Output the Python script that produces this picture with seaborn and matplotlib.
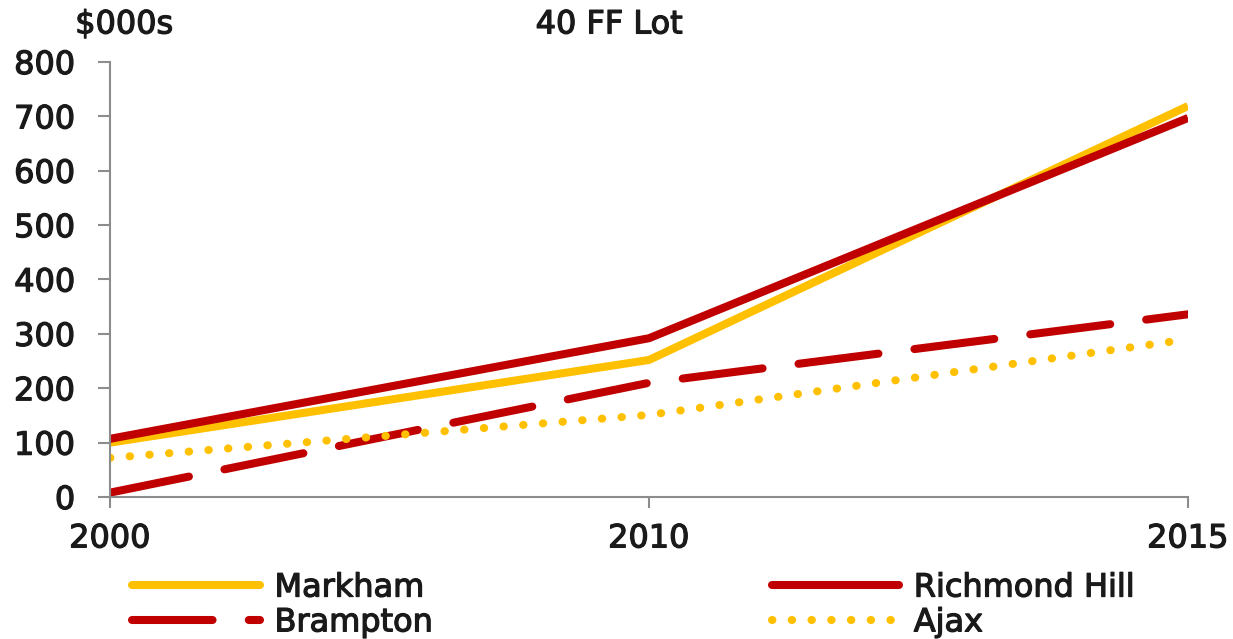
import pandas as pd
import seaborn as sns
import matplotlib.pyplot as plt
import matplotlib.patheffects as pe

# data ($000s)
years = ["2000", "2010", "2015"]
markham = [100, 252, 719]
richmond_hill = [107, 292, 697]
brampton = [8, 210, 336]
ajax = [72, 151, 290]

series = ["Markham", "Richmond Hill", "Brampton", "Ajax"]
values = [markham, richmond_hill, brampton, ajax]

df = pd.DataFrame({
    "year": years * len(series),
    "city": [s for s in series for _ in years],
    "value": [v for vals in values for v in vals],
})

yellow = "#FFC000"
red = "#C00000"
palette = {"Markham": yellow, "Richmond Hill": red, "Brampton": red, "Ajax": yellow}
dashes = {"Markham": "", "Richmond Hill": "", "Brampton": (10, 4.5), "Ajax": (0.05, 2.4)}

sns.set_style("white")
plt.rcParams["font.family"] = ["DejaVu Sans"]
plt.rcParams["text.color"] = "#1a1a1a"
plt.rcParams["xtick.labelcolor"] = "#1a1a1a"
plt.rcParams["ytick.labelcolor"] = "#1a1a1a"

fs = 23
heavy = [pe.withStroke(linewidth=0.9, foreground="#1a1a1a")]

fig = plt.figure(figsize=(12.33, 6.39), dpi=100)
ax = fig.add_axes([0.0892, 0.2222, 0.8743, 0.6808])

sns.lineplot(data=df, x="year", y="value", hue="city", style="city",
             palette=palette, dashes=dashes, hue_order=series, style_order=series,
             linewidth=5.8, sort=False, ax=ax)

for line in ax.get_lines():
    line.set_dash_capstyle("round")
    line.set_solid_capstyle("butt")

ax.set_xlim(0, 2)
ax.set_ylim(0, 800)
ax.set_yticks(range(0, 801, 100))
ax.set_xlabel("")
ax.set_ylabel("")

for side in ["top", "right"]:
    ax.spines[side].set_visible(False)
for side in ["left", "bottom"]:
    ax.spines[side].set_color("#8c8c8c")
    ax.spines[side].set_linewidth(1.5)

ax.tick_params(axis="y", direction="out", length=9, width=1.5, color="#8c8c8c",
               labelsize=fs, pad=16, left=True)
ax.tick_params(axis="x", direction="out", length=8, width=1.5, color="#8c8c8c",
               labelsize=fs, pad=11, bottom=True)
for t in ax.get_xticklabels() + ax.get_yticklabels():
    t.set_path_effects(heavy)

fig.text(0.061, 0.961, "$000s", fontsize=fs, va="center", ha="left", path_effects=heavy)
fig.text(0.494, 0.961, "40 FF Lot", fontsize=fs, va="center", ha="center", path_effects=heavy)

handles, labels = ax.get_legend_handles_labels()
hmap = dict(zip(labels, handles))
order = ["Markham", "Brampton", "Richmond Hill", "Ajax"]
leg = fig.legend([hmap[k] for k in order], order, ncol=2, loc="upper left",
                 bbox_to_anchor=(0.097, 0.124), frameon=False, fontsize=fs,
                 handlelength=4.0, handletextpad=0.45, columnspacing=10.6,
                 labelspacing=0.12, borderaxespad=0)
for h in leg.get_lines():
    h.set_linewidth(5.8)
    h.set_dash_capstyle("round")
    h.set_solid_capstyle("round")
for t in leg.get_texts():
    t.set_path_effects(heavy)
ax.get_legend().remove()

fig.savefig("out.png", dpi=100)
